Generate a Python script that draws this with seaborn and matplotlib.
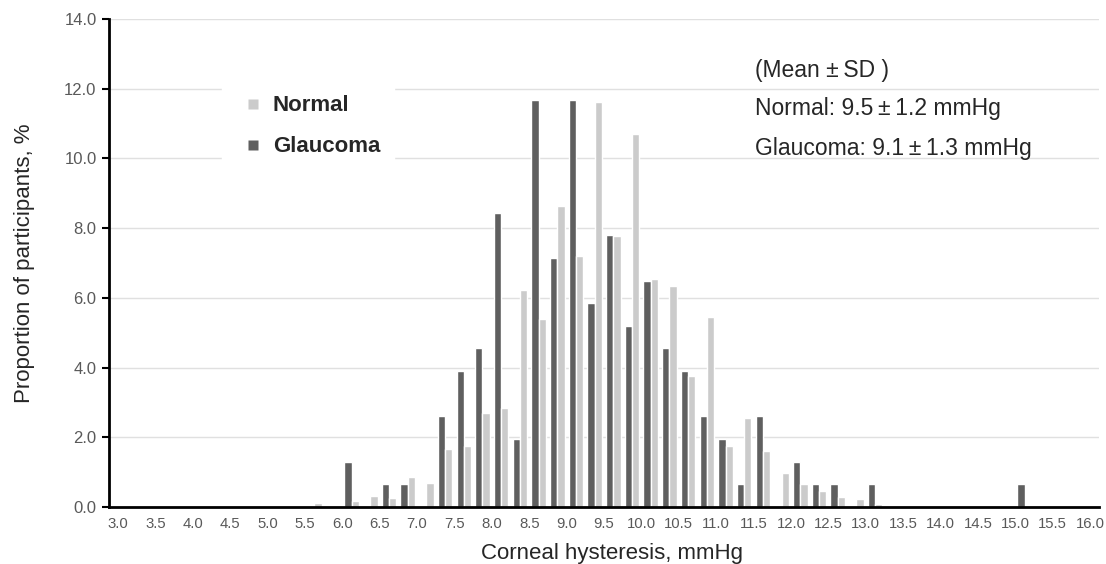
import numpy as np
import pandas as pd
import matplotlib
matplotlib.use('Agg')
import matplotlib.pyplot as plt
import seaborn as sns
from matplotlib.lines import Line2D

# bins of corneal hysteresis (mmHg), 0.25 wide
bins = [3.0, 3.25, 3.5, 3.75, 4.0, 4.25, 4.5, 4.75, 5.0, 5.25, 5.5, 5.75,
        6.0, 6.25, 6.5, 6.75, 7.0, 7.25, 7.5, 7.75, 8.0, 8.25, 8.5, 8.75,
        9.0, 9.25, 9.5, 9.75, 10.0, 10.25, 10.5, 10.75, 11.0, 11.25, 11.5, 11.75,
        12.0, 12.25, 12.5, 12.75, 13.0, 13.25, 13.5, 13.75, 14.0, 14.25, 14.5, 14.75,
        15.0, 15.25, 15.5, 15.75]

glaucoma = [0, 0, 0, 0, 0, 0, 0, 0, 0, 0, 0, 0,
            1.30, 0, 0.65, 0.65, 0, 2.60, 3.90, 4.55, 8.44, 1.95, 11.69, 7.14,
            11.69, 5.84, 7.79, 5.19, 6.49, 4.55, 3.90, 2.60, 1.95, 0.65, 2.60, 0,
            1.30, 0.65, 0.65, 0, 0.65, 0, 0, 0, 0, 0, 0, 0,
            0.65, 0, 0, 0]

normal = [0, 0, 0.04, 0.04, 0, 0, 0, 0.04, 0, 0, 0.12, 0,
          0.18, 0.32, 0.27, 0.86, 0.70, 1.66, 1.75, 2.71, 2.83, 6.22, 5.40, 8.63,
          7.21, 11.61, 7.77, 10.70, 6.53, 6.35, 3.76, 5.44, 1.75, 2.56, 1.61, 0.97,
          0.65, 0.46, 0.29, 0.23, 0.10, 0, 0.04, 0.04, 0, 0.04, 0, 0.04,
          0, 0, 0, 0]

x_labels = ['3.0', '3.5', '4.0', '4.5', '5.0', '5.5', '6.0', '6.5', '7.0', '7.5',
            '8.0', '8.5', '9.0', '9.5', '10.0', '10.5', '11.0', '11.5', '12.0',
            '12.5', '13.0', '13.5', '14.0', '14.5', '15.0', '15.5', '16.0']
y_ticks = [0, 2, 4, 6, 8, 10, 12, 14]

dark = '#5f5f5f'
light = '#cbcbcb'

df = pd.DataFrame({
    'bin': [f'{b:.2f}' for b in bins] * 2,
    'group': ['Glaucoma'] * len(bins) + ['Normal'] * len(bins),
    'pct': glaucoma + normal,
})

sns.set_style('white')
plt.rcParams['font.family'] = ['Liberation Sans', 'DejaVu Sans']

fig = plt.figure(figsize=(11.06, 5.64), dpi=100)
ax = fig.add_axes([109 / 1106, 1 - 507 / 564, 990 / 1106, 488 / 564])

sns.barplot(data=df, x='bin', y='pct', hue='group', hue_order=['Glaucoma', 'Normal'],
            palette={'Glaucoma': dark, 'Normal': light}, width=0.78, gap=0,
            saturation=1, errorbar=None, legend=False, ax=ax)

# labels sit on the category boundaries, every other bin
ax.set_xticks([i - 0.5 for i in range(0, len(bins) + 1, 2)])
ax.set_xticklabels(x_labels)
ax.set_xlim(-0.98, 51.98)
ax.set_ylim(0, 14)
ax.set_yticks(y_ticks)
ax.set_yticklabels([f'{v:.1f}' for v in y_ticks])
ax.tick_params(axis='x', length=0, pad=7, labelsize=10.7, colors='#595959')
ax.tick_params(axis='y', length=5, width=1.5, color='black', pad=4,
               labelsize=12, labelcolor='#595959', direction='out', left=True)
ax.yaxis.grid(True, color='#e0e0e0', linewidth=1)
ax.set_axisbelow(True)
for side in ['top', 'right']:
    ax.spines[side].set_visible(False)
for side in ['left', 'bottom']:
    ax.spines[side].set_color('black')
    ax.spines[side].set_linewidth(2)

ax.set_xlabel('')
ax.set_ylabel('Proportion of participants, %', fontsize=16, labelpad=21)
fig.text(612 / 1106, 5 / 564, 'Corneal hysteresis, mmHg', fontsize=16,
         ha='center', va='baseline')

handles = [Line2D([], [], marker='s', linestyle='none', markersize=7.5,
                  markerfacecolor=light, markeredgecolor='none'),
           Line2D([], [], marker='s', linestyle='none', markersize=7.5,
                  markerfacecolor=dark, markeredgecolor='none')]
leg = ax.legend(handles, ['Normal', 'Glaucoma'], loc='upper left',
                bbox_to_anchor=(0.114, 0.872), borderaxespad=0, frameon=True,
                fancybox=False, framealpha=1, edgecolor='white', facecolor='white',
                prop={'weight': 'bold', 'size': 16}, handlelength=1.53,
                handletextpad=0.14, labelspacing=0.9, borderpad=0.63)

pm = '\u2009\u00b1\u2009'
ax.text(0.6525, 0.895, '(Mean ' + pm.strip('\u2009') + '\u2009SD )', transform=ax.transAxes,
        fontsize=16.5, va='center')
ax.text(0.6525, 0.817, 'Normal: 9.5' + pm + '1.2 mmHg', transform=ax.transAxes,
        fontsize=16.5, va='center')
ax.text(0.6525, 0.735, 'Glaucoma: 9.1' + pm + '1.3 mmHg', transform=ax.transAxes,
        fontsize=16.5, va='center')

fig.savefig('out.png', dpi=100)
